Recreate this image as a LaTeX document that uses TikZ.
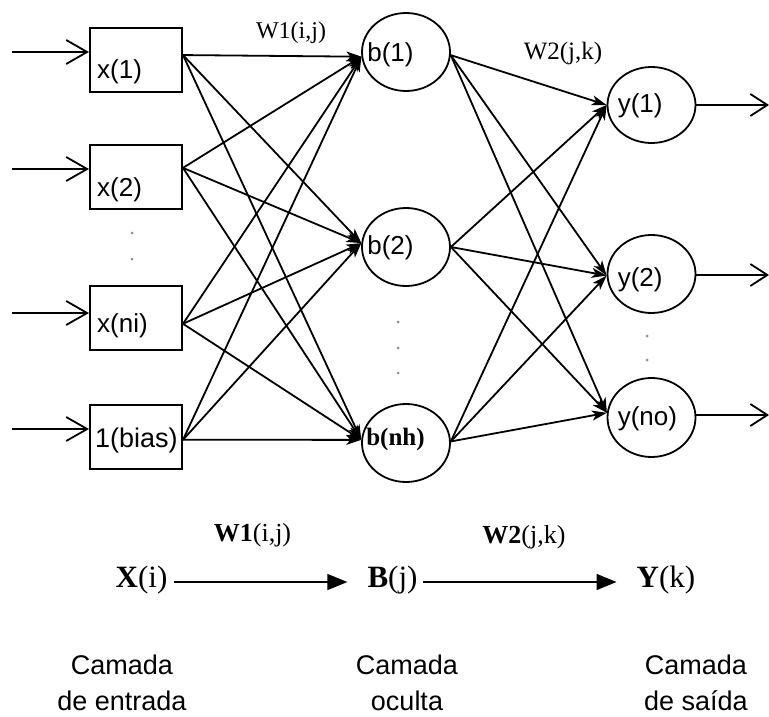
\documentclass[tikz,border=0pt]{standalone}
\usepackage{fontspec}
\setmainfont{Liberation Serif}
\setsansfont{Liberation Sans}
\usetikzlibrary{arrows.meta,shapes.geometric}

\tikzset{
  unitbox/.style={draw, line width=2pt, minimum width=92pt, minimum height=64pt, inner sep=0pt},
  neuron/.style={draw, ellipse, line width=1.8pt, minimum width=88pt, minimum height=78pt, inner sep=0pt},
  inlabel/.style={anchor=west, inner sep=0pt, font=\sffamily\fontsize{26}{30}\selectfont},
  wire/.style={line width=1.8pt, -{Stealth[length=15pt, width=10pt, inset=4pt]}},
  feedin/.style={line width=1.8pt, -{Straight Barb[length=21pt, width=24pt, line width=1.8pt]}},
  feedout/.style={line width=1.8pt, -{Straight Barb[length=17pt, width=22pt, line width=1.8pt]}},
  flow/.style={line width=1.6pt, -{Triangle[length=20pt, width=16pt]}},
  wlabel/.style={inner sep=0pt, font=\fontsize{24}{28}\selectfont},
  eqtext/.style={inner sep=0pt, font=\fontsize{31}{35}\selectfont},
  layername/.style={align=center, inner sep=0pt, font=\sffamily\fontsize{27}{36}\selectfont},
  ellipsisdot/.style={fill=black!45, draw=none, circle, inner sep=0pt, minimum size=3pt}
}

\begin{document}
\begin{tikzpicture}[x=1pt, y=-1pt]
\useasboundingbox (0,0) rectangle (769,717);

% input layer
\node[unitbox, label={[inlabel, xshift=8pt, yshift=-12pt]west:x(1)}] (x1) at (136,60) {};
\node[unitbox, label={[inlabel, xshift=8pt, yshift=-13pt]west:x(2)}] (x2) at (136,177) {};
\node[unitbox, label={[inlabel, xshift=8pt, yshift=-8pt]west:x(ni)}] (x3) at (136,318) {};
\node[unitbox, label={[inlabel, xshift=6pt, yshift=-4pt, font=\sffamily\fontsize{27}{30}\selectfont]west:1(bias)}] (x4) at (136,436.5) {};

% hidden layer
\node[neuron, label={[inlabel, xshift=6pt, yshift=-3pt]west:b(1)}] (b1) at (406,52) {};
\node[neuron, label={[inlabel, xshift=6pt, yshift=-1pt]west:b(2)}] (b2) at (406,247) {};
\node[neuron, label={[inlabel, xshift=5pt, yshift=4pt, font=\bfseries\fontsize{25}{29}\selectfont]west:b(nh)}] (b3) at (406,443) {};

% output layer
\node[neuron, minimum height=76pt, label={[inlabel, xshift=11pt, yshift=-1pt]west:y(1)}] (y1) at (651.5,105) {};
\node[neuron, label={[inlabel, xshift=11pt, yshift=-6pt]west:y(2)}] (y2) at (651.5,274) {};
\node[neuron, minimum height=79pt, label={[inlabel, xshift=11pt, yshift=-1pt]west:y(no)}] (y3) at (651.5,417.5) {};

% free ends of the external arrows
\coordinate (s1) at (12,52);
\coordinate (s2) at (12,169);
\coordinate (s3) at (12,313);
\coordinate (s4) at (12,429);
\coordinate (o1) at (769,105);
\coordinate (o2) at (769,275);
\coordinate (o3) at (769,415);

% incoming signals
\draw[feedin] (s1) -- (s1 -| x1.west);
\draw[feedin] (s2) -- (s2 -| x2.west);
\draw[feedin] (s3) -- (s3 -| x3.west);
\draw[feedin] (s4) -- (s4 -| x4.west);

% weights W1: input -> hidden
\foreach \src/\ang in {x1/6, x2/11, x3/-7.5, x4/-4} {
  \draw[wire] (\src.\ang) -- (b1.186);
  \draw[wire] (\src.\ang) -- (b2.175);
  \draw[wire] (\src.\ang) -- (b3.176);
}

% weights W2: hidden -> output
\foreach \src/\ang in {b1/-4, b2/0, b3/2} {
  \draw[wire] (\src.\ang) -- (y1.west);
  \draw[wire] (\src.\ang) -- (y2.182);
  \draw[wire] (\src.\ang) -- (y3.174);
}

% outgoing signals
\draw[feedout] (y1.east) -- (o1);
\draw[feedout] (y2.east |- o2) -- (o2);
\draw[feedout] (y3.east |- o3) -- (o3);

% weight labels
\node[wlabel] (w1top) at (291,33) {W1(i,j)};
\node[wlabel, font=\fontsize{25}{29}\selectfont] (w2top) at (563,53) {W2(j,k)};

% vertical ellipsis marks
\node[ellipsisdot] (dx1) at (132,233) {};
\node[ellipsisdot] (dx2) at (132,259) {};
\node[ellipsisdot] (db1) at (398,322) {};
\node[ellipsisdot] (db2) at (398,348) {};
\node[ellipsisdot] (db3) at (398,373) {};
\node[ellipsisdot] (dy1) at (647,336) {};
\node[ellipsisdot] (dy2) at (647,360) {};

% summary mapping
\node[eqtext] (Xi) at (141.5,580) {\textbf{X}(i)};
\node[eqtext] (Bj) at (392.5,580) {\textbf{B}(j)};
\node[eqtext] (Yk) at (666,580) {\textbf{Y}(k)};
\draw[flow, shorten <=6pt, shorten >=20pt] ([yshift=-2pt]Xi.east) -- ([yshift=-2pt]Bj.west);
\draw[flow, shorten <=5pt, shorten >=20pt] ([yshift=-2pt]Bj.east) -- ([yshift=-2pt]Yk.west);
\node[wlabel, font=\fontsize{26}{30}\selectfont] (w1eq) at (252.5,535) {\textbf{W1}(i,j)};
\node[wlabel, font=\fontsize{26}{30}\selectfont] (w2eq) at (524,537) {\textbf{W2}(j,k)};

% layer names
\node[layername] (nin) at (122,683) {Camada\\de entrada};
\node[layername] (nhid) at (407,683) {Camada\\oculta};
\node[layername] (nout) at (696,683) {Camada\\de saída};
\end{tikzpicture}
\end{document}
